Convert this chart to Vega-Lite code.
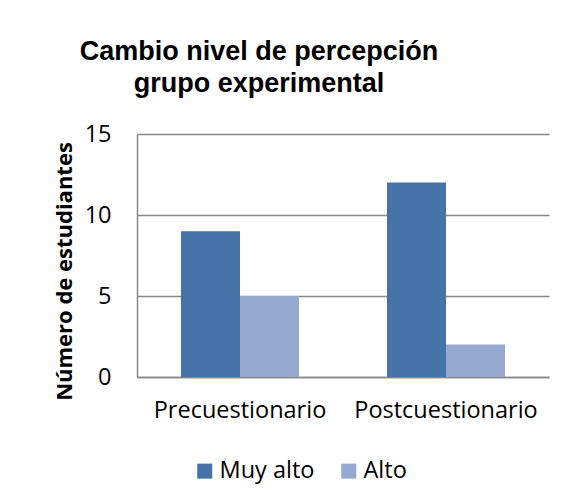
{
  "$schema": "https://vega.github.io/schema/vega-lite/v6.json",
  "autosize": {"type": "none"},
  "width": 412,
  "height": 243,
  "padding": {"left": 137, "top": 134, "right": 16, "bottom": 127},
  "background": "#ffffff",
  "title": {
    "text": ["Cambio nivel de percepción", "grupo experimental"],
    "font": "Liberation Sans",
    "fontSize": 27,
    "fontWeight": "bold",
    "color": "#000000",
    "anchor": "middle",
    "dx": -84,
    "dy": -20,
    "lineHeight": 32
  },
  "data": {
    "values": [
      {"momento": "Precuestionario", "nivel": "Muy alto", "valor": 9},
      {"momento": "Precuestionario", "nivel": "Alto", "valor": 5},
      {"momento": "Postcuestionario", "nivel": "Muy alto", "valor": 12},
      {"momento": "Postcuestionario", "nivel": "Alto", "valor": 2}
    ]
  },
  "mark": {"type": "bar"},
  "encoding": {
    "x": {
      "field": "momento",
      "type": "nominal",
      "sort": ["Precuestionario", "Postcuestionario"],
      "scale": {"paddingInner": 0.427, "paddingOuter": 0.2135},
      "axis": {
        "title": null,
        "labelAngle": 0,
        "labelFont": "Open Sans",
        "labelFontSize": 23.5,
        "labelColor": "#000000",
        "labelPadding": 21,
        "labelLimit": 400,
        "ticks": false,
        "domainColor": "#888888",
        "domainWidth": 1.5
      }
    },
    "xOffset": {
      "field": "nivel",
      "type": "nominal",
      "sort": ["Muy alto", "Alto"],
      "scale": {"paddingInner": 0, "paddingOuter": 0}
    },
    "y": {
      "field": "valor",
      "type": "quantitative",
      "scale": {"domain": [0, 15]},
      "axis": {
        "values": [0, 5, 10, 15],
        "title": "Número de estudiantes",
        "titleFont": "Open Sans",
        "titleFontSize": 22,
        "titleFontWeight": "bold",
        "titleColor": "#000000",
        "titleAngle": 270,
        "titleBaseline": "middle",
        "titleAlign": "center",
        "titleX": -73,
        "titleY": 137,
        "labelFont": "Open Sans",
        "labelFontSize": 23.5,
        "labelColor": "#000000",
        "labelPadding": 26,
        "ticks": false,
        "domainColor": "#888888",
        "domainWidth": 1.5,
        "gridColor": "#888888",
        "gridWidth": 1.5
      }
    },
    "color": {
      "field": "nivel",
      "type": "nominal",
      "sort": ["Muy alto", "Alto"],
      "scale": {"domain": ["Muy alto", "Alto"], "range": ["#4572A7", "#95A9D1"]},
      "legend": {
        "title": null,
        "orient": "none",
        "direction": "horizontal",
        "legendX": 56,
        "legendY": 325,
        "symbolType": "square",
        "symbolSize": 225,
        "symbolStrokeWidth": 0,
        "labelFont": "Open Sans",
        "labelFontSize": 23.5,
        "labelColor": "#000000",
        "labelOffset": 3,
        "columnPadding": 22,
        "padding": 0
      }
    }
  },
  "config": {
    "view": {"stroke": null}
  }
}
